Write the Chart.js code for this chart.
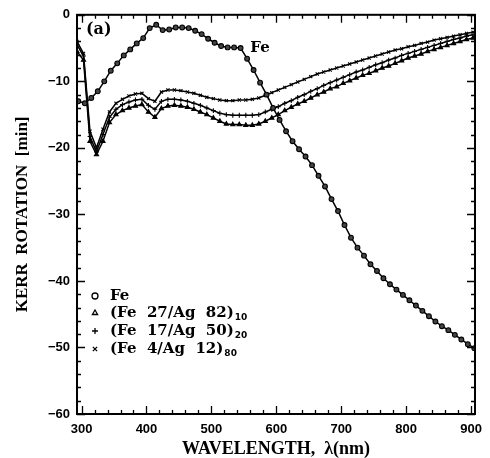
<!DOCTYPE html>
<html><head><meta charset="utf-8">
<script src="https://cdn.jsdelivr.net/npm/chart.js@4/dist/chart.umd.min.js"></script>
<style>html,body{margin:0;padding:0;background:#fff}canvas{display:block}</style>
</head><body>
<canvas id="c" width="490" height="458"></canvas>
<script>
// ---- data ----
const feLambda = [295,305,315,325,335,345,355,365,375,385,395,405,415,425,435,445,455,465,475,485,495,505,515,525,535,545,555,565,575,585,595,605,615,625,635,645,655,665,675,685,695,705,715,725,735,745,755,765,775,785,795,805,815,825,835,845,855,865,875,885,895,905];
const feKerr = [-13.0,-13.3,-12.5,-11.5,-10.0,-8.4,-7.3,-6.1,-5.2,-4.3,-3.5,-2.0,-1.5,-2.3,-2.2,-1.9,-1.9,-2.0,-2.4,-2.9,-3.6,-4.2,-4.7,-4.9,-4.9,-5.0,-6.6,-8.3,-10.2,-12.0,-14.0,-15.8,-17.5,-19.0,-20.2,-21.3,-22.6,-24.2,-25.8,-27.7,-29.5,-31.6,-33.5,-35.0,-36.2,-37.5,-38.5,-39.6,-40.5,-41.3,-42.1,-42.9,-43.7,-44.5,-45.3,-46.1,-46.8,-47.4,-48.1,-48.8,-49.5,-50.1];
const mlLambda = [293,303,313,323,333,343,353,363,373,383,393,403,413,423,433,443,453,463,473,483,493,503,513,523,533,543,553,563,573,583,593,603,613,623,633,643,653,663,673,683,693,703,713,723,733,743,753,763,773,783,793,803,813,823,833,843,853,863,873,883,893,903];
const ml27Kerr = [-5.5,-6.8,-19.0,-21.0,-19.0,-16.2,-15.0,-14.4,-14.0,-13.7,-13.5,-14.6,-15.4,-14.1,-13.7,-13.6,-13.7,-13.9,-14.2,-14.6,-15.0,-15.5,-16.0,-16.4,-16.5,-16.5,-16.6,-16.6,-16.4,-16.0,-15.5,-15.0,-14.4,-13.9,-13.4,-13.0,-12.5,-12.0,-11.6,-11.1,-10.8,-10.3,-9.9,-9.5,-9.1,-8.8,-8.4,-8.0,-7.7,-7.3,-6.9,-6.5,-6.2,-5.9,-5.5,-5.2,-4.9,-4.6,-4.3,-4.0,-3.7,-3.5];
const ml17Kerr = [-4.5,-6.2,-18.3,-20.6,-18.0,-15.4,-14.2,-13.5,-13.1,-12.8,-12.7,-13.6,-14.2,-13.0,-12.7,-12.7,-12.8,-13.0,-13.3,-13.6,-14.0,-14.4,-14.8,-15.0,-15.1,-15.1,-15.1,-15.1,-15.0,-14.6,-14.2,-13.8,-13.3,-12.9,-12.4,-12.0,-11.5,-11.1,-10.6,-10.2,-9.8,-9.4,-9.0,-8.6,-8.3,-7.9,-7.5,-7.2,-6.8,-6.5,-6.1,-5.8,-5.5,-5.2,-4.9,-4.6,-4.3,-4.0,-3.7,-3.5,-3.2,-3.0];
const ml4Kerr = [-4.0,-5.8,-17.5,-20.0,-17.2,-14.6,-13.3,-12.7,-12.2,-11.9,-11.8,-12.6,-13.0,-11.6,-11.3,-11.3,-11.4,-11.6,-11.8,-12.1,-12.4,-12.6,-12.8,-12.9,-12.9,-12.8,-12.8,-12.7,-12.5,-12.1,-11.7,-11.3,-10.9,-10.5,-10.1,-9.7,-9.3,-8.9,-8.6,-8.3,-8.0,-7.7,-7.4,-7.1,-6.8,-6.5,-6.2,-5.9,-5.6,-5.3,-5.1,-4.8,-4.6,-4.3,-4.1,-3.8,-3.6,-3.4,-3.2,-3.0,-2.8,-2.6];
const xTicks = [300,400,500,600,700,800,900];
const yTicks = [0,-10,-20,-30,-40,-50,-60];
const seriesNames = ['Fe', '(Fe  27/Ag  82)', '(Fe  17/Ag  50)', '(Fe  4/Ag  12)'];
const seriesSubs = ['', '10', '20', '80'];

// ---- styles ----
const styles = [
  {pointStyle:'circle', radius:2.4, bg:'#444'},
  {pointStyle:'triangle', radius:2.4, bg:'#000'},
  {pointStyle:'cross', radius:2.4, bg:'#000'},
  {pointStyle:'crossRot', radius:2.2, bg:'#000'}
];
const xsArr = [feLambda, mlLambda, mlLambda, mlLambda];
const ysArr = [feKerr, ml27Kerr, ml17Kerr, ml4Kerr];

const datasets = ysArr.map((ys,i)=>({
  label: seriesNames[i],
  data: ys.map((v,k)=>({x:xsArr[i][k], y:v})),
  borderColor:'#000', borderWidth:1.5, backgroundColor:styles[i].bg,
  pointStyle:styles[i].pointStyle, pointRadius:styles[i].radius,
  pointBorderColor:'#000', pointBorderWidth:1.1, tension:0, fill:false
}));

const decor = {
  id:'decor',
  afterDraw(chart){
    const ctx = chart.ctx, a = chart.chartArea, xs = chart.scales.x, ys = chart.scales.y;
    ctx.save();
    ctx.strokeStyle = '#000';
    // frame
    ctx.lineWidth = 2;
    ctx.strokeRect(a.left, a.top, a.right-a.left, a.bottom-a.top);
    ctx.lineWidth = 1.3;
    // x ticks (inward, bottom & top)
    for (let v=300; v<=900; v+=20){
      const p = Math.round(xs.getPixelForValue(v))+0.5;
      const L = (v%100===0)?8:4;
      ctx.beginPath();
      ctx.moveTo(p,a.bottom); ctx.lineTo(p,a.bottom-L);
      ctx.moveTo(p,a.top); ctx.lineTo(p,a.top+L);
      ctx.stroke();
    }
    for (let v=-60; v<=0; v+=2){
      const p = Math.round(ys.getPixelForValue(v))+0.5;
      const L = (v%10===0)?8:4;
      ctx.beginPath();
      ctx.moveTo(a.left,p); ctx.lineTo(a.left+L,p);
      ctx.moveTo(a.right,p); ctx.lineTo(a.right-L,p);
      ctx.stroke();
    }
    // annotations
    ctx.fillStyle = '#000';
    ctx.textBaseline = 'alphabetic';
    ctx.font = 'bold 16px "DejaVu Serif"';
    ctx.textAlign = 'left';
    ctx.fillText('(a)', a.left+9, a.top+19);
    ctx.font = 'bold 15px "DejaVu Serif"';
    ctx.fillText('Fe', xs.getPixelForValue(560), ys.getPixelForValue(-5.6));
    // legend
    const lx = 95, tx = 110;
    const rows = [300, 317, 335, 353];
    rows.forEach((by,i)=>{
      const st = styles[i];
      ctx.fillStyle = '#fff';
      ctx.lineWidth = 1.3;
      Chart.helpers.drawPoint(ctx, {pointStyle:st.pointStyle, radius:3, borderWidth:1.3, rotation:0}, lx, by-4);
      ctx.fillStyle = '#000';
      ctx.font = 'bold 15px "DejaVu Serif"';
      ctx.fillText(seriesNames[i], tx, by);
      if (seriesSubs[i]){
        const w = ctx.measureText(seriesNames[i]).width;
        ctx.font = 'bold 9px "DejaVu Sans"';
        ctx.fillText(seriesSubs[i], tx+w+1, by+3);
      }
    });
    ctx.restore();
  }
};

new Chart(document.getElementById('c'), {
  type:'line',
  data:{datasets},
  plugins:[decor],
  options:{
    responsive:false, animation:false, devicePixelRatio:1,
    layout:{padding:{top:13,right:4,left:0,bottom:0}},
    plugins:{legend:{display:false}, tooltip:{enabled:false}},
    scales:{
      x:{type:'linear', min:293, max:906,
        afterBuildTicks(s){ s.ticks = xTicks.map(v=>({value:v})); },
        afterFit(s){ s.height = 44; },
        grid:{display:false, drawTicks:false}, border:{display:false},
        ticks:{color:'#000', padding:8, font:{family:'"Liberation Sans"', weight:'bold', size:13}},
        title:{display:true, text:'WAVELENGTH,  λ(nm)', color:'#000', padding:{top:0,bottom:0},
          font:{family:'"Liberation Serif"', weight:'bold', size:18, lineHeight:1}}
      },
      y:{type:'linear', min:-60, max:0,
        afterBuildTicks(s){ s.ticks = yTicks.map(v=>({value:v})); },
        afterFit(s){ s.width = 77; },
        grid:{display:false, drawTicks:false}, border:{display:false},
        ticks:{color:'#000', padding:7, font:{family:'"Liberation Sans"', weight:'bold', size:13},
          callback:v=> v<0 ? '\u2212'+Math.abs(v) : String(v)},
        title:{display:true, text:'KERR  ROTATION  [min]', color:'#000', padding:{top:14,bottom:0},
          font:{family:'"Liberation Serif"', weight:'bold', size:17, lineHeight:1}}
      }
    }
  }
});
</script>
</body></html>
